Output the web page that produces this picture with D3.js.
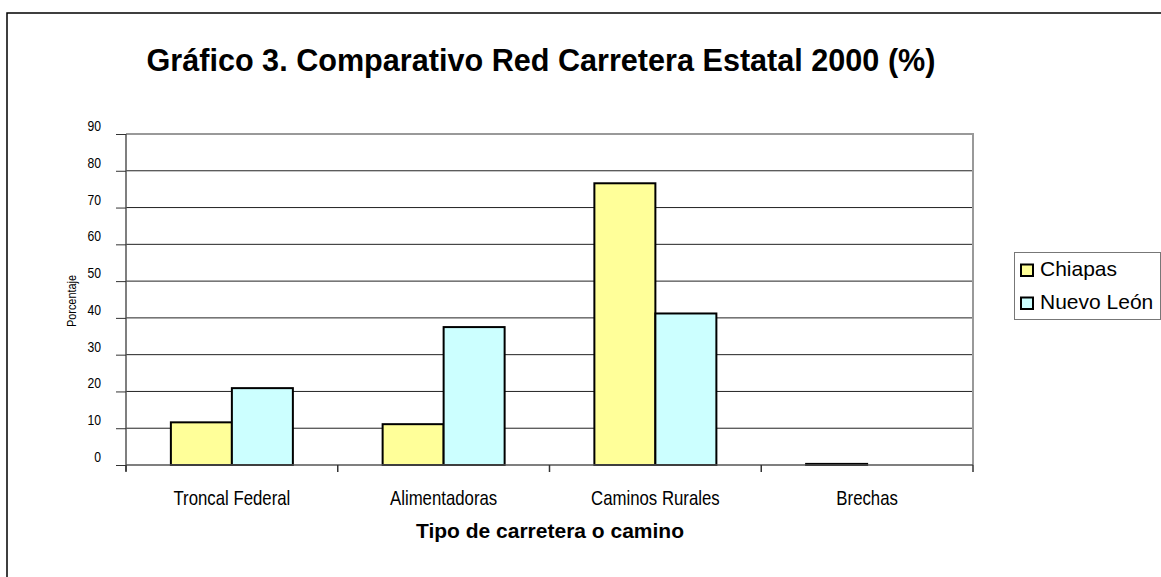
<!DOCTYPE html>
<html><head><meta charset="utf-8">
<script src="https://cdn.jsdelivr.net/npm/d3@7"></script>
<style>body{margin:0;background:#fff}svg{display:block}</style>
</head><body>
<svg id="c" width="1161" height="577"></svg>
<script>
const categories = ["Troncal Federal", "Alimentadoras", "Caminos Rurales", "Brechas"];
const seriesNames = ["Chiapas", "Nuevo León"];
const chiapas = [11.6, 11.1, 76.6, 0.3];
const nuevoLeon = [20.9, 37.5, 41.2, 0];
const yTicks = [0, 10, 20, 30, 40, 50, 60, 70, 80, 90];
const colors = ["#FFFF99", "#CCFFFF"];

const sans = "'Liberation Sans',Arial,sans-serif";
const NARROW = 0.84;
const svg = d3.select("#c");
// outer frame
svg.append("path").attr("d","M7,577 V13 H1161").attr("fill","none").attr("stroke","#000").attr("stroke-width",1.5);

const L=126, R=973, T=134, B=465;
const x = d3.scaleBand().domain(categories).range([L,R]);
const y = d3.scaleLinear().domain([0,90]).range([B,T]);
const series = [chiapas, nuevoLeon];

// gridlines
svg.append("g").selectAll("line").data(yTicks.filter(t=>t>0&&t<90)).join("line")
  .attr("x1",L).attr("x2",R).attr("y1",d=>y(d)).attr("y2",d=>y(d))
  .attr("stroke","#222").attr("stroke-width",1);
// plot border top/right gray
svg.append("path").attr("d",`M${L},${y(90)} H${R} V${B}`).attr("fill","none").attr("stroke","#999").attr("stroke-width",2);

// bars
const bw = 61;
series.forEach((s,i)=>{
  svg.append("g").selectAll("rect").data(categories).join("rect")
    .attr("x",d=>x(d)+x.bandwidth()/2 - bw + i*bw)
    .attr("width",bw)
    .attr("y",(d,j)=>y(s[j]))
    .attr("height",(d,j)=>y(0)-y(s[j]))
    .attr("fill",colors[i]).attr("stroke","#000").attr("stroke-width",2)
    .style("display",(d,j)=>s[j]>0?null:"none");
});

// y axis
const ya = svg.append("g").attr("transform",`translate(${L},0)`)
  .call(d3.axisLeft(y).tickValues(yTicks).tickSize(10).tickFormat(""));
ya.select(".domain").attr("stroke","#555").attr("stroke-width",1.5).attr("d",`M0,${y(90)}V${B+6}`);
ya.selectAll(".tick line").attr("stroke","#333");
svg.append("g").selectAll("text").data(yTicks).join("text")
  .attr("transform",d=>`translate(101,${y(d)-3}) scale(${NARROW},1)`)
  .attr("text-anchor","end").attr("font-family",sans).attr("font-size",14.5).text(d=>d);

// x axis
const xa = svg.append("g").attr("transform",`translate(0,${B})`)
  .call(d3.axisBottom(x).tickSize(0).tickFormat(""));
xa.select(".domain").attr("stroke","#555").attr("stroke-width",1.5).attr("d",`M${L},0H${R}`);
svg.append("g").selectAll("line").data(d3.range(categories.length+1)).join("line")
  .attr("x1",i=>L+i*x.step()).attr("x2",i=>L+i*x.step()).attr("y1",B).attr("y2",B+7)
  .attr("stroke","#333").attr("stroke-width",1.5);
svg.append("g").selectAll("text").data(categories).join("text")
  .attr("transform",d=>`translate(${x(d)+x.bandwidth()/2},505) scale(${NARROW},1)`)
  .attr("text-anchor","middle").attr("font-family",sans).attr("font-size",20).text(d=>d);

// titles
svg.append("text").attr("x",541).attr("y",71).attr("text-anchor","middle")
  .attr("font-family",sans).attr("font-weight","bold").attr("font-size",30.6)
  .text("Gráfico 3. Comparativo Red Carretera Estatal 2000 (%)");
svg.append("text").attr("x",550).attr("y",538).attr("text-anchor","middle")
  .attr("font-family",sans).attr("font-weight","bold").attr("font-size",21)
  .text("Tipo de carretera o camino");
svg.append("text").attr("transform",`translate(76,301) rotate(-90) scale(${NARROW},1)`).attr("text-anchor","middle")
  .attr("font-family",sans).attr("font-size",13).text("Porcentaje");

// legend
const lg = svg.append("g");
lg.append("rect").attr("x",1014.5).attr("y",252.5).attr("width",146).attr("height",67)
  .attr("fill","#fff").attr("stroke","#777").attr("stroke-width",1);
seriesNames.forEach((n,i)=>{
  const by = 276 + i*33;
  lg.append("rect").attr("x",1021).attr("y",by-11.5).attr("width",12).attr("height",11.5)
    .attr("fill",colors[i]).attr("stroke","#000").attr("stroke-width",2);
  lg.append("text").attr("x",1040).attr("y",by).attr("font-family",sans).attr("font-size",21).text(n);
});
</script>
</body></html>
